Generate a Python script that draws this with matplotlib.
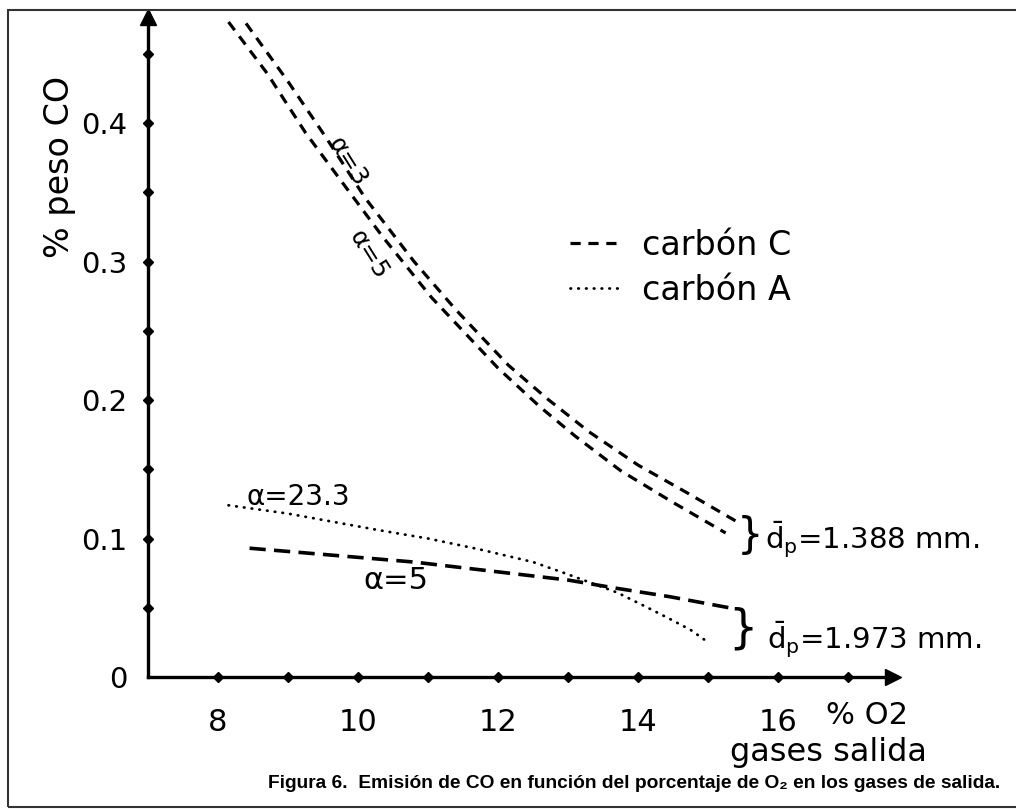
import matplotlib
matplotlib.use('Agg')
import matplotlib.pyplot as plt
from matplotlib.patches import Rectangle
import numpy as np

# carbón C, dp = 1.388 mm (two dashed curves, alpha = 3 and alpha = 5)
c1388_a3_x = [8.40, 9.00, 9.55, 10.10, 10.80, 11.40, 12.15, 12.70, 13.30, 14.00, 14.70, 15.45]
c1388_a3_y = [0.472, 0.430, 0.389, 0.346, 0.300, 0.265, 0.225, 0.201, 0.177, 0.153, 0.133, 0.111]
c1388_a5_x = [8.15, 8.70, 9.25, 9.85, 10.35, 11.05, 12.00, 12.60, 13.10, 13.75, 14.50, 15.25]
c1388_a5_y = [0.473, 0.436, 0.393, 0.352, 0.318, 0.274, 0.223, 0.195, 0.174, 0.149, 0.126, 0.104]

# dp = 1.973 mm: carbón A (dotted, alpha = 23.3) and carbón C (dashed, alpha = 5)
a1973_x = [8.15, 9.00, 10.30, 11.00, 11.75, 12.50, 12.95, 13.70, 14.10, 14.45, 14.75, 15.00]
a1973_y = [0.124, 0.118, 0.106, 0.100, 0.092, 0.083, 0.075, 0.061, 0.051, 0.042, 0.034, 0.025]
c1973_x = [8.45, 10.80, 13.00, 13.70, 14.45, 15.30]
c1973_y = [0.093, 0.083, 0.070, 0.064, 0.058, 0.050]

x_major = [8, 10, 12, 14, 16]
x_minor = [8, 9, 10, 11, 12, 13, 14, 15, 16, 17]
y_major = [0, 0.1, 0.2, 0.3, 0.4]
y_labels = ['0', '0.1', '0.2', '0.3', '0.4']
y_minor = [0.05, 0.1, 0.15, 0.2, 0.25, 0.3, 0.35, 0.4, 0.45]

plt.rcParams['font.family'] = ['DejaVu Sans']
W, H = 1016, 809
fig = plt.figure(figsize=(W / 100, H / 100), dpi=100)
ax = fig.add_axes([148 / W, 1 - 677 / H, (893 - 148) / W, (677 - 17) / H])
ax.set_xlim(7, 17.64)
ax.set_ylim(0, 0.4766)

lw = 2.3
ax.plot(c1388_a3_x, c1388_a3_y, color='black', lw=lw, dashes=(3.2, 2.4), label='carbón C')
ax.plot(c1388_a5_x, c1388_a5_y, color='black', lw=lw, dashes=(3.2, 2.4))
ax.plot(a1973_x, a1973_y, color='black', lw=2.0, dashes=(0.2, 2.6),
        dash_capstyle='round', label='carbón A')
ax.plot(c1973_x, c1973_y, color='black', lw=2.6, dashes=(4.5, 2.3))

# axes: only left and bottom, with arrow heads
for s in ['top', 'right']:
    ax.spines[s].set_visible(False)
for s in ['left', 'bottom']:
    ax.spines[s].set_linewidth(2.4)
ax.plot(0, 1, '^', color='black', ms=11, transform=ax.transAxes, clip_on=False)
ax.plot(1, 0, '>', color='black', ms=11, transform=ax.transAxes, clip_on=False)

ax.set_xticks(x_major)
ax.set_xticklabels([str(v) for v in x_major])
ax.set_xticks(x_minor, minor=True)
ax.set_yticks(y_major)
ax.set_yticklabels(y_labels)
ax.set_yticks(y_minor, minor=True)
ax.tick_params(which='both', length=0)
ax.tick_params(axis='x', labelsize=22, pad=22)
ax.tick_params(axis='y', labelsize=21, pad=15)
ax.plot(x_minor, np.zeros(len(x_minor)), 'D', color='black', ms=5, clip_on=False)
ax.plot(np.full(len(y_minor), 7), y_minor, 'D', color='black', ms=5, clip_on=False)

fig.text(60 / W, 1 - 167 / H, '% peso CO', rotation=90, fontsize=24,
         ha='center', va='center')
fig.text(867 / W, 1 - 716 / H, '% O2', fontsize=22, ha='center', va='center')
fig.text(828 / W, 1 - 752 / H, 'gases salida', fontsize=23, ha='center', va='center')

leg = ax.legend(loc='center left', bbox_to_anchor=(570 / W, 1 - 268 / H),
                bbox_transform=fig.transFigure, frameon=False, fontsize=24,
                handlelength=1.6, handletextpad=0.55, labelspacing=0.35,
                borderpad=0, borderaxespad=0)

# curve annotations
ax.text(9.85, 0.372, 'α=3', rotation=-58, fontsize=18, ha='center', va='center')
ax.text(10.15, 0.305, 'α=5', rotation=-58, fontsize=18, ha='center', va='center')
ax.text(9.14, 0.130, 'α=23.3', fontsize=20, ha='center', va='center')
ax.text(10.54, 0.070, 'α=5', fontsize=22, ha='center', va='center')

ax.text(15.6, 0.102, '}', fontsize=30, ha='center', va='center')
ax.text(15.81, 0.099, r'$\bar{\mathrm{d}}_\mathrm{p}$=1.388 mm.', fontsize=21,
        ha='left', va='center')
ax.text(15.5, 0.035, '}', fontsize=33, ha='center', va='center')
ax.text(15.84, 0.027, r'$\bar{\mathrm{d}}_\mathrm{p}$=1.973 mm.', fontsize=21,
        ha='left', va='center')

fig.text(634 / W, 1 - 784 / H,
         'Figura 6.  Emisión de CO en función del porcentaje de O₂ en los gases de salida.',
         fontsize=13.8, fontweight='bold', ha='center', va='center',
         family=['Liberation Sans', 'DejaVu Sans'])

fig.add_artist(Rectangle((8 / W, 2 / H), 1.2, 1 - 12 / H, transform=fig.transFigure,
                         fill=False, lw=1.5, edgecolor='#333333', clip_on=False))

fig.savefig('out.png', dpi=100)
